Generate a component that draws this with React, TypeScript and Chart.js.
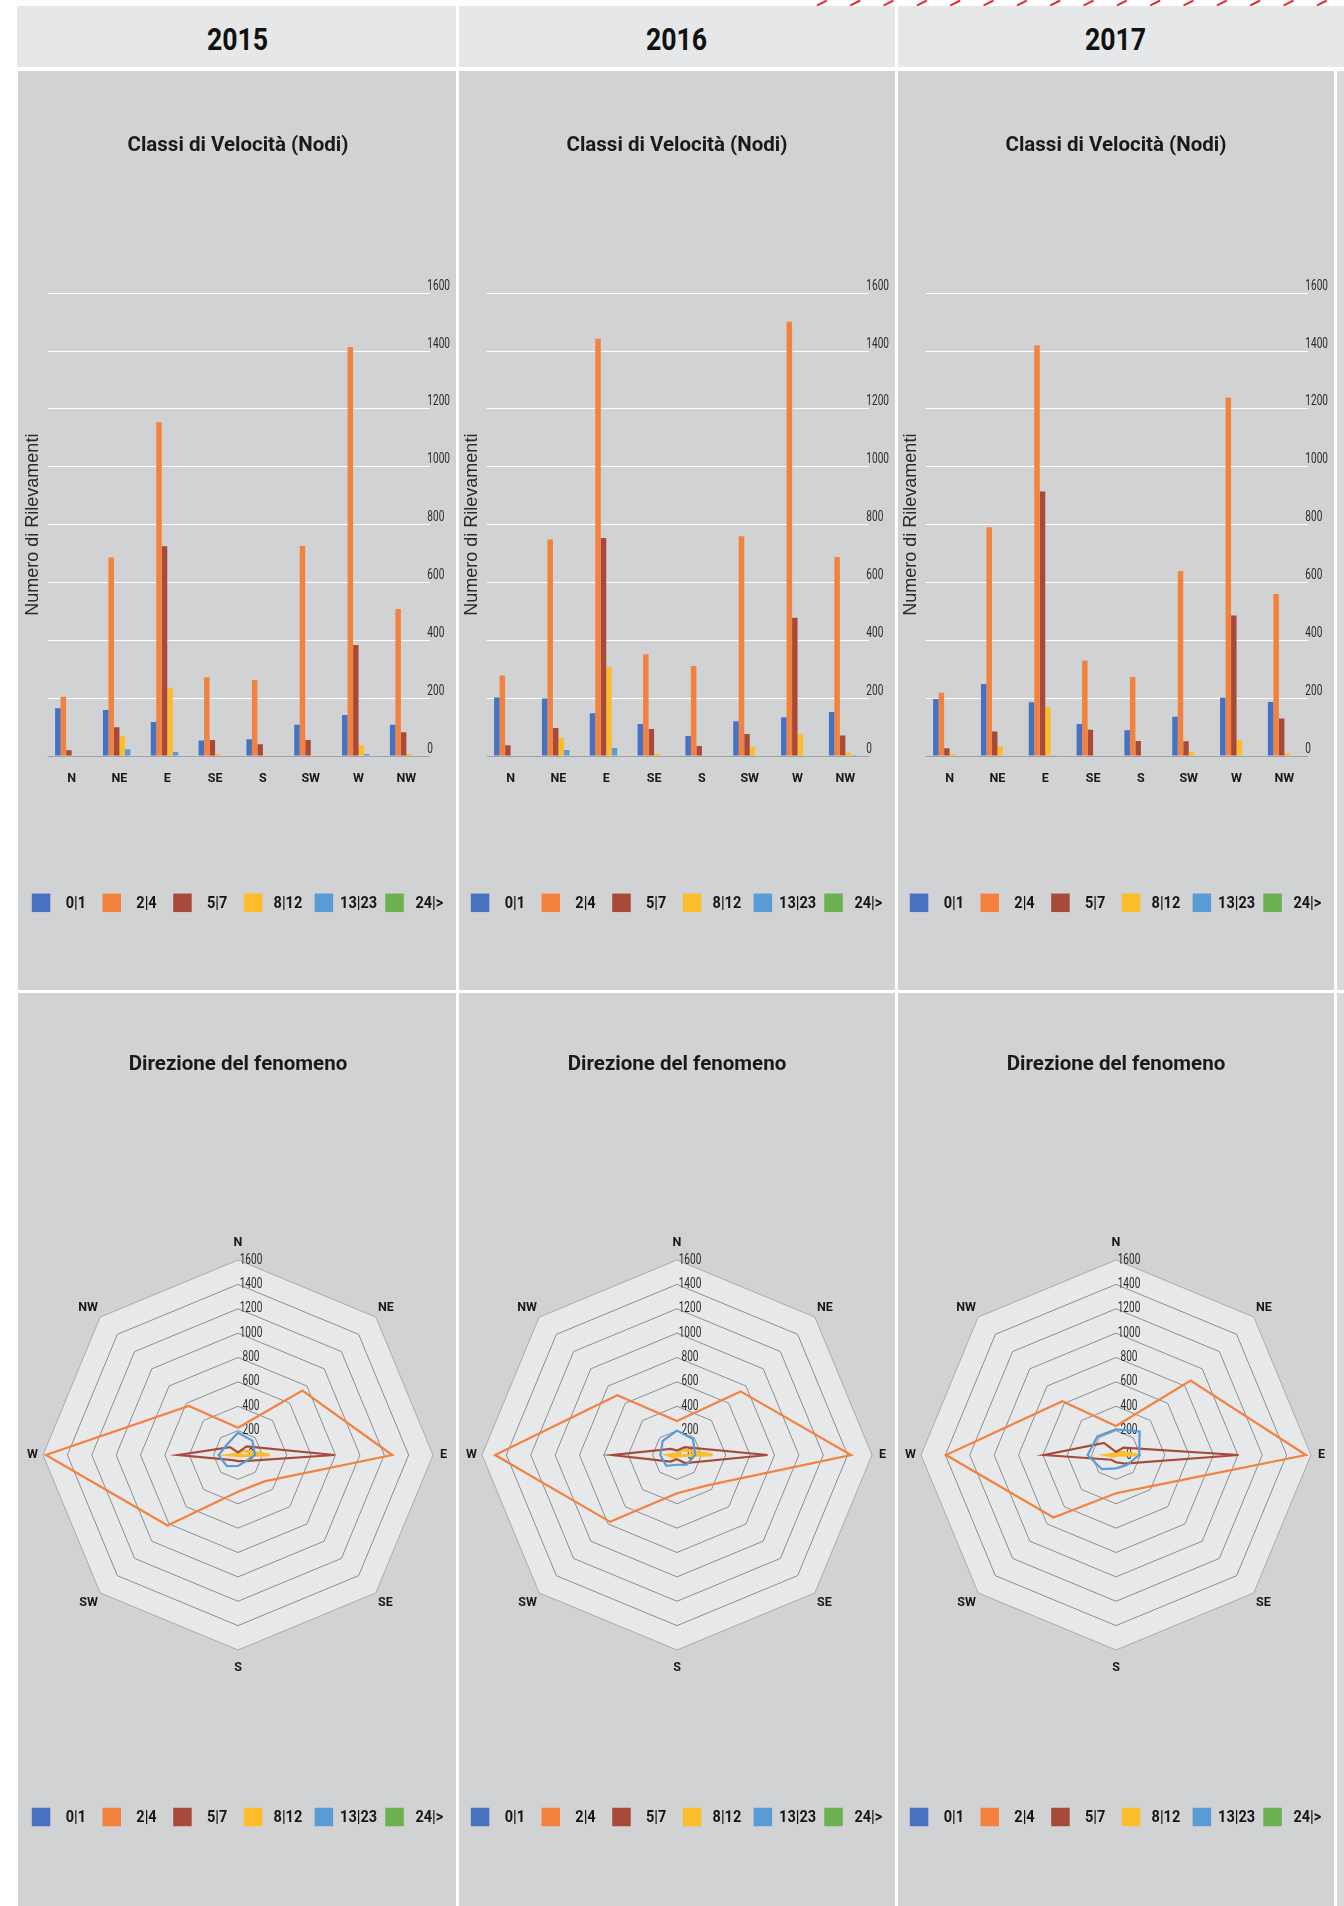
import React, { useEffect, useRef } from 'react';
import { Chart, registerables } from 'chart.js';

Chart.register(...registerables);

const ROBOTO = "Roboto, 'Liberation Sans', Arial, sans-serif";
const SANS = "'Liberation Sans', Arial, sans-serif";

const YEARS = ['2015', '2016', '2017'];
const DIRECTIONS = ['N', 'NE', 'E', 'SE', 'S', 'SW', 'W', 'NW'];
const SPEED_CLASSES = ['0|1', '2|4', '5|7', '8|12', '13|23', '24|>'];
const CLASS_COLORS = ['#4672c1', '#f3823f', '#a84a3a', '#fdbd2b', '#5a9bd5', '#6cb04f'];
const RADAR_LINE_COLORS = ['#5a9bd5', '#f3823f', '#a84a3a', '#fdbd2b', '#4672c1', '#6cb04f'];
const AXIS_MIN = 0;
const AXIS_MAX = 1600;
const AXIS_STEP = 200;

// ---- Bar chart values (Classi di Velocità) ----
const BAR_2015_0_1 = [165, 159, 118, 54, 58, 108, 142, 108];
const BAR_2015_2_4 = [205, 686, 1154, 272, 263, 726, 1414, 508];
const BAR_2015_5_7 = [20, 99, 725, 55, 41, 55, 384, 82];
const BAR_2015_8_12 = [2, 68, 236, 8, 2, 2, 37, 7];
const BAR_2015_13_23 = [0, 23, 14, 0, 0, 0, 7, 0];
const BAR_2015_24 = [0, 0, 0, 0, 0, 0, 0, 0];

const BAR_2016_0_1 = [202, 199, 148, 111, 69, 120, 134, 152];
const BAR_2016_2_4 = [278, 749, 1443, 352, 311, 760, 1502, 688];
const BAR_2016_5_7 = [37, 97, 754, 93, 35, 76, 478, 71];
const BAR_2016_8_12 = [2, 62, 307, 9, 2, 30, 76, 12];
const BAR_2016_13_23 = [0, 21, 28, 0, 0, 0, 2, 3];
const BAR_2016_24 = [0, 0, 0, 0, 0, 0, 0, 0];

const BAR_2017_0_1 = [197, 249, 186, 111, 89, 136, 201, 187];
const BAR_2017_2_4 = [219, 791, 1420, 329, 273, 640, 1240, 560];
const BAR_2017_5_7 = [27, 85, 915, 91, 52, 51, 486, 130];
const BAR_2017_8_12 = [8, 35, 169, 2, 0, 15, 55, 10];
const BAR_2017_13_23 = [0, 0, 3, 0, 0, 0, 0, 0];
const BAR_2017_24 = [0, 0, 0, 0, 0, 0, 0, 0];

// ---- Radar values (Direzione del fenomeno) ----
const RADAR_2015_0_1 = [183, 167, 140, 80, 90, 129, 159, 125];
const RADAR_2015_2_4 = [224, 747, 1266, 306, 301, 818, 1576, 570];
const RADAR_2015_5_7 = [22, 100, 793, 70, 50, 60, 490, 92];
const RADAR_2015_8_12 = [5, 50, 260, 8, 3, 5, 55, 10];
const RADAR_2015_13_23 = [2, 25, 15, 2, 2, 2, 8, 2];
const RADAR_2015_24 = [0, 0, 0, 0, 0, 0, 0, 0];

const RADAR_2016_0_1 = [200, 185, 150, 111, 80, 125, 137, 165];
const RADAR_2016_2_4 = [279, 738, 1428, 352, 314, 776, 1493, 693];
const RADAR_2016_5_7 = [37, 90, 743, 93, 35, 76, 530, 70];
const RADAR_2016_8_12 = [2, 62, 292, 9, 2, 30, 77, 12];
const RADAR_2016_13_23 = [0, 21, 28, 0, 0, 0, 2, 3];
const RADAR_2016_24 = [0, 0, 0, 0, 0, 0, 0, 0];

const RADAR_2017_0_1 = [211, 274, 191, 120, 110, 165, 233, 216];
const RADAR_2017_2_4 = [238, 865, 1559, 370, 314, 725, 1395, 623];
const RADAR_2017_5_7 = [25, 85, 1006, 100, 60, 55, 588, 140];
const RADAR_2017_8_12 = [9, 38, 177, 2, 2, 16, 69, 11];
const RADAR_2017_13_23 = [0, 2, 3, 0, 0, 0, 0, 0];
const RADAR_2017_24 = [0, 0, 0, 0, 0, 0, 0, 0];

const BAR_SERIES = [
  [BAR_2015_0_1, BAR_2015_2_4, BAR_2015_5_7, BAR_2015_8_12, BAR_2015_13_23, BAR_2015_24],
  [BAR_2016_0_1, BAR_2016_2_4, BAR_2016_5_7, BAR_2016_8_12, BAR_2016_13_23, BAR_2016_24],
  [BAR_2017_0_1, BAR_2017_2_4, BAR_2017_5_7, BAR_2017_8_12, BAR_2017_13_23, BAR_2017_24],
];
const RADAR_SERIES = [
  [RADAR_2015_0_1, RADAR_2015_2_4, RADAR_2015_5_7, RADAR_2015_8_12, RADAR_2015_13_23, RADAR_2015_24],
  [RADAR_2016_0_1, RADAR_2016_2_4, RADAR_2016_5_7, RADAR_2016_8_12, RADAR_2016_13_23, RADAR_2016_24],
  [RADAR_2017_0_1, RADAR_2017_2_4, RADAR_2017_5_7, RADAR_2017_8_12, RADAR_2017_13_23, RADAR_2017_24],
];

// ---- layout constants ----
const COL_LEFT = 20;
const COL_PITCH = 439;
const COL_W = 436;
const BAR_TOP = 71;
const BAR_H = 919;
const RADAR_TOP = 993;
const RADAR_H = 913;
const PANEL_BG = '#d1d2d4';
const HEADER_BG = '#e6e7e9';
const TICK_SCALE_X = 0.72;

function drawCondensed(ctx: any, text: string, x: number, y: number, sx: number) {
  ctx.save();
  ctx.translate(x, y);
  ctx.scale(sx, 1);
  ctx.fillText(text, 0, 0);
  ctx.restore();
}

const fixedLegendPlugin = {
  id: 'fixedLegend',
  afterDraw(chart: any, _args: any, opts: any) {
    const ctx = chart.ctx;
    ctx.save();
    ctx.font = `bold ${opts.fontSize}px ${ROBOTO}`;
    ctx.textAlign = 'center';
    ctx.textBaseline = 'middle';
    SPEED_CLASSES.forEach((label, i) => {
      const x = opts.x0 + i * opts.step;
      ctx.fillStyle = CLASS_COLORS[i];
      ctx.fillRect(x, opts.y - opts.box / 2, opts.box, opts.box);
      ctx.fillStyle = '#161616';
      drawCondensed(ctx, label, x + opts.textDx, opts.y + 1, 0.88);
    });
    ctx.restore();
  },
};

const rightTicksPlugin = {
  id: 'rightTicks',
  afterDraw(chart: any) {
    const s = chart.scales.y;
    const ctx = chart.ctx;
    ctx.save();
    ctx.font = `14px ${ROBOTO}`;
    ctx.fillStyle = '#2a2a2a';
    ctx.textAlign = 'left';
    ctx.textBaseline = 'middle';
    s.ticks.forEach((t: any) => {
      drawCondensed(ctx, String(t.value), chart.chartArea.right - 3, s.getPixelForValue(t.value) - 7, TICK_SCALE_X);
    });
    ctx.restore();
  },
};

const radarTicksPlugin = {
  id: 'radarTicks',
  beforeDatasetsDraw(chart: any) {
    const s = chart.scales.r;
    const ctx = chart.ctx;
    ctx.save();
    ctx.font = `14px ${ROBOTO}`;
    ctx.fillStyle = '#2a2a2a';
    ctx.textAlign = 'center';
    ctx.textBaseline = 'middle';
    s.ticks.forEach((t: any) => {
      const d = s.getDistanceFromCenterForValue(t.value);
      drawCondensed(ctx, String(t.value), s.xCenter + 13, s.yCenter - d, TICK_SCALE_X);
    });
    ctx.restore();
  },
};

function BarChart({ series }: { series: number[][] }) {
  const ref = useRef<HTMLCanvasElement | null>(null);
  useEffect(() => {
    if (!ref.current) return;
    const chart = new Chart(ref.current, {
      type: 'bar',
      data: {
        labels: DIRECTIONS,
        datasets: SPEED_CLASSES.map((label, i) => ({
          label,
          data: series[i],
          backgroundColor: CLASS_COLORS[i],
          borderWidth: 0,
          categoryPercentage: 0.69,
          barPercentage: 1,
          yAxisID: 'y',
        })),
      },
      options: {
        responsive: false,
        animation: false,
        devicePixelRatio: 1,
        events: [],
        layout: { padding: { top: 0, left: 0, right: 0, bottom: 204 } },
        plugins: {
          legend: { display: false },
          tooltip: { enabled: false },
          title: {
            display: true,
            text: 'Classi di Velocità (Nodi)',
            color: '#1a1a1a',
            font: { family: ROBOTO, size: 20.5, weight: 'bold', lineHeight: 1.2 },
            padding: { top: 62.5, bottom: 135.2 },
          },
          fixedLegend: { y: 831.8, x0: 11.8, step: 70.7, box: 18.5, textDx: 44, fontSize: 16.5 },
        } as any,
        scales: {
          x: {
            grid: { display: false, drawTicks: false },
            border: { display: false },
            ticks: { color: '#1a1a1a', padding: 15, font: { family: ROBOTO, size: 12.5, weight: 'bold' } },
            afterFit: (s: any) => { s.height = 30; },
          },
          y: {
            position: 'right',
            min: AXIS_MIN,
            max: AXIS_MAX,
            ticks: { stepSize: AXIS_STEP, display: false },
            grid: {
              drawTicks: false,
              lineWidth: 1,
              color: (c: any) => (c.tick && c.tick.value === 0 ? '#a2a2a2' : '#ffffff'),
            },
            border: { display: false },
            afterFit: (s: any) => { s.width = 25.7; },
          },
          yTitle: {
            axis: 'y',
            type: 'linear',
            position: 'left',
            min: AXIS_MIN,
            max: AXIS_MAX,
            grid: { display: false, drawTicks: false },
            border: { display: false },
            ticks: { display: false },
            title: {
              display: true,
              text: 'Numero di Rilevamenti',
              color: '#2a2a2a',
              font: { family: SANS, size: 18 },
              padding: { top: 2.2, bottom: 0 },
            },
            afterFit: (s: any) => { s.width = 27.7; },
          },
        } as any,
      },
      plugins: [fixedLegendPlugin, rightTicksPlugin],
    });
    return () => chart.destroy();
  }, [series]);
  return <canvas ref={ref} width={COL_W} height={BAR_H} style={{ position: 'absolute', left: 0, top: 0 }} />;
}

function RadarChart({ series }: { series: number[][] }) {
  const ref = useRef<HTMLCanvasElement | null>(null);
  useEffect(() => {
    if (!ref.current) return;
    const chart = new Chart(ref.current, {
      type: 'radar',
      data: {
        labels: DIRECTIONS,
        datasets: SPEED_CLASSES.map((label, i) => ({
          label,
          data: series[i],
          borderColor: RADAR_LINE_COLORS[i],
          backgroundColor: 'transparent',
          borderWidth: i === 3 ? 3 : 2.2,
          pointRadius: 0,
          fill: false,
          tension: 0,
        })),
      },
      options: {
        responsive: false,
        animation: false,
        devicePixelRatio: 1,
        events: [],
        layout: { padding: { top: 0, left: 0, right: 0, bottom: 230.4 } },
        plugins: {
          legend: { display: false },
          tooltip: { enabled: false },
          title: {
            display: true,
            text: 'Direzione del fenomeno',
            color: '#1a1a1a',
            font: { family: ROBOTO, size: 20.5, weight: 'bold', lineHeight: 1.2 },
            padding: { top: 59.5, bottom: 157.9 },
          },
          fixedLegend: { y: 824, x0: 11.8, step: 70.7, box: 18.5, textDx: 44, fontSize: 16.5 },
        } as any,
        scales: {
          r: {
            min: AXIS_MIN,
            max: AXIS_MAX,
            backgroundColor: '#e7e8ea',
            angleLines: { display: false },
            ticks: { display: false, stepSize: AXIS_STEP },
            grid: {
              lineWidth: 1,
              color: (c: any) => (c.tick && c.tick.value === AXIS_MAX ? '#aaaaaa' : '#8e8e8e'),
            },
            pointLabels: {
              padding: (c: any) => {
                const i = c.index;
                if (i === 0 || i === 4) return 10;
                if (i === 2) return 7;
                if (i === 6) return 5;
                return 3;
              },
              color: '#1a1a1a',
              font: { family: ROBOTO, size: 12.5, weight: 'bold' },
            },
          },
        } as any,
      },
      plugins: [fixedLegendPlugin, radarTicksPlugin],
    });
    return () => chart.destroy();
  }, [series]);
  return <canvas ref={ref} width={COL_W} height={RADAR_H} style={{ position: 'absolute', left: 0, top: 0 }} />;
}

function RedDashes() {
  return (
    <svg width={1344} height={6} style={{ position: 'absolute', left: 0, top: 0 }}>
      <defs>
        <pattern id="reddash" x={816.8} y={0} width={33.33} height={6} patternUnits="userSpaceOnUse">
          <line x1={0} y1={5.5} x2={10} y2={0.5} stroke="#e2252d" strokeWidth={2} />
        </pattern>
      </defs>
      <rect x={812} y={0} width={532} height={6} fill="url(#reddash)" />
    </svg>
  );
}

export default function App() {
  const headerBoxes = [
    { left: 17, width: 439 },
    { left: 459, width: 436 },
    { left: 898, width: 446 },
  ];
  return (
    <div style={{ position: 'absolute', left: 0, top: 0, width: 1344, height: 1906, background: '#ffffff', overflow: 'hidden' }}>
      <RedDashes />
      {headerBoxes.map((b, i) => (
        <div key={'h' + i} style={{ position: 'absolute', left: b.left, top: 6, width: b.width, height: 61, background: HEADER_BG }} />
      ))}
      {YEARS.map((y, i) => (
        <div key={'t' + i} style={{ position: 'absolute', left: COL_LEFT + i * COL_PITCH, top: 9, width: COL_W, height: 61, lineHeight: '61px', textAlign: 'center', fontFamily: ROBOTO, fontWeight: 'bold', fontSize: 31, color: '#111111' }}>
          <span style={{ display: 'inline-block', transform: 'scaleX(0.86)' }}>{y}</span>
        </div>
      ))}
      {YEARS.map((y, i) => (
        <React.Fragment key={'p' + i}>
          <div style={{ position: 'absolute', left: i === 0 ? 18 : COL_LEFT + i * COL_PITCH, top: BAR_TOP, width: i === 0 ? COL_W + 2 : COL_W, height: BAR_H, background: PANEL_BG }} />
          <div style={{ position: 'absolute', left: i === 0 ? 18 : COL_LEFT + i * COL_PITCH, top: RADAR_TOP, width: i === 0 ? COL_W + 2 : COL_W, height: RADAR_H, background: PANEL_BG }} />
          <div style={{ position: 'absolute', left: COL_LEFT + i * COL_PITCH, top: BAR_TOP, width: COL_W, height: BAR_H }}>
            <BarChart series={BAR_SERIES[i]} />
          </div>
          <div style={{ position: 'absolute', left: COL_LEFT + i * COL_PITCH, top: RADAR_TOP, width: COL_W, height: RADAR_H }}>
            <RadarChart series={RADAR_SERIES[i]} />
          </div>
        </React.Fragment>
      ))}
      <div style={{ position: 'absolute', left: COL_LEFT + 3 * COL_PITCH, top: BAR_TOP, width: 10, height: BAR_H, background: '#d8d9db' }} />
      <div style={{ position: 'absolute', left: COL_LEFT + 3 * COL_PITCH, top: RADAR_TOP, width: 10, height: RADAR_H, background: '#d8d9db' }} />
    </div>
  );
}
